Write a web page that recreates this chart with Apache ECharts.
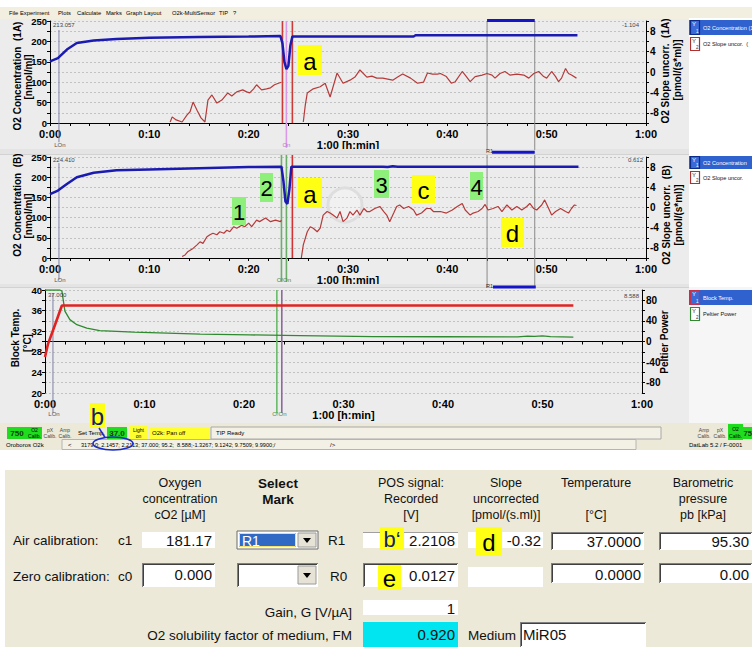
<!DOCTYPE html>
<html>
<head>
<meta charset="utf-8">
<title>DatLab – O2 calibration</title>
<script src="https://cdn.jsdelivr.net/npm/echarts@6/dist/echarts.min.js"></script>
<style>
html,body{margin:0;padding:0;background:#ffffff;}
#chart{width:752px;height:647px;}
</style>
</head>
<body>
<div id="chart"></div>
<script>
// ---------------- recorded traces (time axis in minutes) ----------------
const timeLabels = ['0:00', '0:10', '0:20', '0:30', '0:40', '0:50', '1:00'];

// Chamber A – O2 concentration [nmol/ml]
const concA = [[0,151],[0.8,159],[1.7,180],[2.7,196],[4.4,202],[6.7,206],[10,209],[15,211],[20,212],
  [23.2,213],[23.4,195],[23.6,150],[23.8,132],[24.0,140],[24.2,190],[24.4,212],[30,212],[36.6,212],
  [36.8,215],[53.1,215]];

// Chamber A – O2 slope uncorrected [pmol/(s*ml)]; null marks the gap while the chamber is opened
const slopeA = [[12.1,-9.8],[12.3,-8.8],[12.7,-9.4],[13.3,-9.8],[13.8,-8.4],[14.1,-7.8],[14.4,-5.9],
  [14.8,-7.5],[15.2,-9.0],[15.6,-9.8],[15.9,-5.5],[16.3,-4.5],[16.8,-6.1],[17.3,-5.5],[17.9,-4.1],
  [18.3,-4.7],[18.8,-3.9],[19.4,-3.5],[19.8,-3.9],[20.1,-4.1],[20.5,-3.3],[20.8,-2.5],[21.3,-3.5],
  [21.8,-3.3],[22.2,-3.1],[22.6,-2.5],[23.0,-2.2],[23.3,-2.0],[24.4,null],
  [25.5,-9.8],[25.7,-6.5],[25.9,-4.1],[26.5,-3.3],[27.2,-2.9],[27.7,-2.2],[28.2,-4.9],[28.9,-0.2],
  [29.5,-2.2],[30.2,-1.6],[30.7,-1.0],[31.2,0.4],[31.9,-1.0],[32.4,-0.8],[32.9,-1.2],[33.5,-1.2],
  [34.0,-1.4],[34.5,-1.6],[35.0,-1.0],[35.5,-0.4],[36.3,-1.2],[37.0,-2.2],[37.6,-2.0],[38.0,-0.2],
  [38.5,-0.4],[39.0,-0.4],[39.3,-0.3],[39.9,-0.9],[40.4,-2.2],[40.8,-1.9],[41.5,0.1],[41.8,-0.6],
  [42.3,-1.9],[42.8,-0.9],[43.5,-0.6],[44.0,-0.3],[44.5,-0.6],[44.8,-1.2],[45.3,-0.3],[45.8,0.1],
  [46.3,-0.6],[47.0,-0.4],[47.7,-0.6],[48.2,-1.2],[48.7,-0.3],[49.2,0.1],[49.7,-0.9],[50.0,-1.2],
  [50.5,0.1],[50.9,-0.9],[51.2,-1.9],[51.5,-1.2],[51.9,0.7],[52.2,-0.3],[52.5,-0.6],[53.0,-1.2]];

// Chamber B – O2 concentration [nmol/ml]
const concB = [[0,158],[0.8,167],[1.7,183],[2.7,200],[4.4,211],[6.7,217],[10,219],[15,222],[20,225],
  [23.3,226],[23.5,190],[23.7,140],[23.9,134],[24.1,170],[24.3,226],[30,226],[33.5,226],[34,225],
  [34.5,227],[35,226],[53.2,226]];

// Chamber B – O2 slope uncorrected [pmol/(s*ml)]
const slopeB = [[13.3,-9.7],[13.6,-9.4],[13.9,-8.7],[14.4,-8.1],[14.8,-7.4],[15.1,-6.8],[15.4,-7.1],
  [15.8,-5.8],[16.1,-5.4],[16.4,-5.1],[16.8,-5.4],[17.1,-4.8],[17.5,-5.1],[17.8,-4.5],[18.1,-4.8],
  [18.5,-3.8],[18.8,-4.1],[19.3,-3.5],[19.6,-3.8],[20.0,-3.1],[20.3,-3.8],[20.8,-2.5],[21.1,-2.8],
  [21.7,-2.1],[22.2,-2.8],[22.7,-2.5],[23.2,-2.8],[23.3,-2.5],[24.5,null],
  [25.3,-10],[25.5,-7.4],[25.9,-4.8],[26.2,-3.8],[26.5,-4.1],[26.9,-4.8],[27.2,-4.1],[27.5,-1.5],
  [27.9,-0.8],[28.2,-1.1],[28.5,-1.5],[28.9,-2.1],[29.2,-0.8],[29.5,-2.8],[29.9,-2.1],[30.2,-0.8],
  [30.5,-1.5],[30.9,-0.5],[31.2,-1.5],[31.6,-0.2],[31.9,-0.8],[32.2,-0.8],[32.7,-0.2],[33.2,0.2],
  [33.6,-0.8],[33.9,-1.5],[34.2,-2.8],[34.6,-1.1],[34.9,0.2],[35.2,0.5],[35.6,-0.2],[36.1,0.2],
  [36.6,-0.5],[36.9,-1.5],[37.4,-1.1],[37.9,-0.2],[38.3,-0.2],[38.6,-0.8],[39.3,-0.8],[39.9,-1.1],
  [40.5,-0.5],[41.0,0.2],[41.5,0.8],[41.8,-0.5],[42.3,-1.5],[42.6,-1.1],[43.1,-0.8],[43.5,-0.2],
  [43.8,0.6],[44.1,-0.5],[44.6,-0.2],[45.1,0.2],[45.5,-0.8],[46.0,0.5],[46.5,-0.5],[47.0,0.2],
  [47.5,-0.5],[48.0,0.2],[48.3,0.8],[48.7,-0.2],[49.0,-0.5],[49.5,0.5],[49.8,1.5],[50.2,-0.2],
  [50.5,-1.5],[50.9,-0.8],[51.4,-0.2],[51.9,-0.8],[52.2,-1.1],[52.5,-0.2],[52.8,0.5],[53.0,0.4]];

// Block temperature [°C] and Peltier power
const blockTemp = [[0,27.0],[0.3,29.5],[1.0,33.2],[1.7,37.0],[53.1,37.0]];
const peltier = [[0,100],[1.5,100],[1.7,98],[2.0,59],[2.5,42.5],[3.2,32.6],[4.2,26],[5.5,21.3],
  [8.9,18.2],[12.3,16.2],[15.6,14.2],[20.6,12.8],[25.6,11.4],[33,9.5],[40,9.2],[47.5,9.0],
  [48.5,10.5],[49.2,9.8],[50,10.8],[50.8,9.5],[53.1,8.6]];

// events and marks (minutes)
const eventLOn = 0.9;
const eventsA = [23.4, 23.8, 24.4];       // chamber A: open, On, close
const eventsB = [23.3, 23.8, 24.4];       // chamber B: O, On, close
const eventsT = [23.3, 23.8];             // temperature plot
const markR1 = [44.0, 48.8];

// ---------------- layout ----------------
const FONT = "'Liberation Sans', Arial, Helvetica, sans-serif";
const chart = echarts.init(document.getElementById('chart'), null, {renderer: 'svg'});

const timeFmt = v => (Math.abs(v % 10) < 1e-6 ? timeLabels[Math.round(v / 10)] : '');
const axisTxt = {color: '#000', fontSize: 11, fontWeight: 'bold', fontFamily: FONT};

function xAx(g) {
  return {
    type: 'value', gridIndex: g, min: 0, max: 60, interval: 2,
    axisLine: {lineStyle: {color: '#000', width: 1}},
    axisTick: {length: 3, lineStyle: {color: '#000'}},
    axisLabel: Object.assign({formatter: timeFmt, margin: 5}, axisTxt),
    splitLine: {show: false},
    name: '1:00 [h:min]', nameLocation: 'middle', nameGap: 14,
    nameTextStyle: axisTxt
  };
}
function yLeft(g, min, max, step, every) {
  return {
    type: 'value', gridIndex: g, min, max, interval: step, position: 'left',
    axisLine: {show: true, lineStyle: {color: '#000'}},
    axisTick: {show: true, length: 3, lineStyle: {color: '#000'}},
    axisLabel: Object.assign({formatter: v => (v % every === 0 ? String(v) : ''), margin: 3}, axisTxt, {fontSize: 9.5}),
    splitLine: {show: true, lineStyle: {color: '#c2c2c2', type: [2, 2], width: 1}}
  };
}
function yRight(g, lim, step, every) {
  return {
    type: 'value', gridIndex: g, min: -lim, max: lim, interval: step, position: 'right',
    axisLine: {show: true, lineStyle: {color: '#000'}},
    axisTick: {show: true, length: 3, lineStyle: {color: '#000'}},
    axisLabel: Object.assign({formatter: v => (v % every === 0 && Math.abs(v) < lim ? String(v) : ''), margin: 4}, axisTxt, {fontSize: 10}),
    splitLine: {show: false}
  };
}

function trace(g, yi, data, color, width, z) {
  return {
    type: 'line', xAxisIndex: g, yAxisIndex: yi, data: data.map(p => [p[0], p[1] === null ? '-' : p[1]]),
    symbol: 'none', connectNulls: false, animation: false, silent: true, z,
    lineStyle: {color, width}
  };
}
function vLine(g, t, top, bottom, color, width) {
  return {
    type: 'line', xAxisIndex: g, yAxisIndex: g * 2, data: [[t, top], [t, bottom]],
    symbol: 'none', clip: false, animation: false, silent: true, z: 3,
    lineStyle: {color, width}
  };
}
function hBar(g, t0, t1, v) {
  return {
    type: 'line', xAxisIndex: g, yAxisIndex: g * 2, data: [[t0, v], [t1, v]],
    symbol: 'none', clip: false, animation: false, silent: true, z: 6,
    lineStyle: {color: '#1414c8', width: 3}
  };
}

const BLUE = '#1b1bb0', SLOPE = '#b53a3a';
const series = [
  // panel 1 – chamber A
  vLine(0, eventLOn, 228, -47, '#8080a8', 1),
  vLine(0, eventsA[0], 250, 0, '#cc3a3a', 1.6),
  vLine(0, eventsA[2], 250, 0, '#cc3a3a', 1.6),
  vLine(0, eventsA[1], 250, -61, '#d89ae6', 1.6),
  vLine(0, markR1[0], 250, -66, '#8a8a8a', 1),
  vLine(0, markR1[1], 250, -66, '#8a8a8a', 1),
  hBar(0, markR1[0], markR1[1], 251),
  trace(0, 1, slopeA, SLOPE, 1.2, 4),
  trace(0, 0, concA, BLUE, 2.5, 5),
  // panel 2 – chamber B
  vLine(1, eventLOn, 235, -54, '#8080a8', 1),
  vLine(1, eventsB[0], 255, -59, '#6aae6a', 1.6),
  vLine(1, eventsB[1], 255, -59, '#6aae6a', 1.6),
  vLine(1, eventsB[2], 255, 0, '#d23232', 1.6),
  vLine(1, markR1[0], 255, -74, '#8a8a8a', 1),
  vLine(1, markR1[1], 255, -74, '#8a8a8a', 1),
  hBar(1, markR1[0] + 0.5, markR1[1], 262),
  hBar(1, markR1[0] + 0.6, markR1[1] + 0.1, -72),
  trace(1, 3, slopeB, SLOPE, 1.2, 4),
  trace(1, 2, concB, BLUE, 2.5, 5),
  // panel 3 – temperature
  vLine(2, eventLOn - 0.1, 39.4, 16.1, '#8080a8', 1),
  vLine(2, eventsT[0], 40, 16.1, '#6aba6a', 1.6),
  vLine(2, eventsT[1], 40, 16.1, '#8a6a9a', 1.6),
  trace(2, 5, peltier, '#2f8a2f', 1.3, 4),
  trace(2, 4, blockTemp, '#e02222', 2.6, 5)
];

const option = {
  animation: false,
  backgroundColor: '#ffffff',
  grid: [
    {left: 50, right: 106, top: 21, height: 102},
    {left: 50, right: 106, top: 157, height: 101},
    {left: 45, right: 110, top: 290, height: 103}
  ],
  xAxis: [xAx(0), xAx(1), xAx(2)],
  yAxis: [
    yLeft(0, 0, 250, 25, 50), yRight(0, 10, 2, 4),
    yLeft(1, 0, 250, 25, 50), yRight(1, 10, 2, 4),
    yLeft(2, 20, 40, 2, 4), yRight(2, 100, 20, 40)
  ],
  series
};
chart.setOption(option);

// ---------------- window furniture, titles and the calibration form ----------------
const G = [];
function box(x, y, w, h, fill, stroke, z, lw) {
  G.push({type: 'rect', z: z === undefined ? 40 : z, silent: true, shape: {x, y, width: w, height: h},
    style: {fill: fill || 'none', stroke: stroke || 'none', lineWidth: lw || 1}});
}
function seg(x1, y1, x2, y2, color, w, z) {
  G.push({type: 'line', z: z === undefined ? 41 : z, silent: true, shape: {x1, y1, x2, y2},
    style: {stroke: color, lineWidth: w || 1}});
}
function txt(x, y, s, o) {
  o = o || {};
  G.push({type: 'text', x, y, rotation: o.rot || 0, z: o.z === undefined ? 60 : o.z, silent: true,
    style: {text: s, fill: o.color || '#000',
      font: (o.weight || 'normal') + ' ' + (o.size || 12) + 'px ' + FONT,
      textAlign: o.align || 'left', textVerticalAlign: 'middle', verticalAlign: 'middle'}});
}
function tag(x, y, w, h, s, bg, color, size) {
  box(x, y, w, h, bg, null, 70);
  txt(x + w / 2, y + h / 2 + 1, s, {align: 'center', size: size || 24, color: color || '#000', z: 71});
}
function sunken(x, y, w, h) {
  box(x, y, w, h, '#ffffff', null, 40);
  seg(x, y + 0.5, x + w, y + 0.5, '#808080', 1);
  seg(x + 0.5, y, x + 0.5, y + h, '#808080', 1);
  seg(x + 1, y + 1.5, x + w - 1, y + 1.5, '#404040', 1);
  seg(x + 1.5, y + 1, x + 1.5, y + h - 1, '#404040', 1);
}
const UP = Math.PI / 2;

// background of the plot window
box(0, 18, 689, 405, '#ececec', null, -10);
box(0, 149, 689, 6, '#e4e4e4', null, 1);
seg(0, 154.5, 689, 154.5, '#d2d2d2', 1, 1);
box(0, 284, 689, 4, '#e4e4e4', null, 1);
seg(0, 287.5, 689, 287.5, '#d2d2d2', 1, 1);

// menu bar
box(0, 7, 752, 12, '#f2efe1', null, 50);
[['File', 9], ['Experiment', 20], ['Plots', 58], ['Calculate', 77], ['Marks', 106], ['Graph', 126],
 ['Layout', 144], ['O2k-MultiSensor', 172], ['TIP', 219], ['?', 233]]
  .forEach(m => txt(m[1], 13, m[0], {size: 5.8, z: 51}));

// axis titles
const T = {rot: UP, align: 'center', size: 10, weight: 'bold'};
txt(17, 76, 'O2 Concentration  (1A)', T);
txt(28.5, 77, '[nmol/ml]', T);
txt(665, 71, 'O2 Slope uncorr.  (1A)', T);
txt(677, 70, '[pmol/(s*ml)]', T);
txt(17, 205, 'O2 Concentration  (B)', T);
txt(28.5, 216, '[nmol/ml]', T);
txt(666, 215, 'O2 Slope uncorr.  (B)', T);
txt(678, 215, '[pmol/(s*ml)]', T);
txt(15, 338, 'Block Temp.', T);
txt(27, 343, '[°C]', T);
txt(664, 342, 'Peltier Power', T);

// cursor read-outs
txt(53, 25, '213.057', {size: 6, color: '#444'});
txt(639, 25, '-1.104', {size: 6, color: '#444', align: 'right'});
txt(53, 160, '224.410', {size: 6, color: '#444'});
txt(643, 160, '0.612', {size: 6, color: '#444', align: 'right'});
txt(48, 295, '37.000', {size: 6, color: '#444'});
txt(639, 296, '8.588', {size: 6, color: '#444', align: 'right'});

// event / mark labels placed from the axis scales
function px(g, t, v) { return chart.convertToPixel({xAxisIndex: g, yAxisIndex: g * 2}, [t, v]); }
let p;
p = px(0, eventLOn, -47); txt(p[0] + 1, p[1] + 3, 'LOn', {size: 6, color: '#555', align: 'center'});
p = px(0, eventsA[1], -61); txt(p[0], p[1] - 3, 'On', {size: 6, color: '#c070d0', align: 'center', z: 62});
p = px(1, eventLOn, -54); txt(p[0] + 1, p[1], 'LOn', {size: 6, color: '#555', align: 'center'});
p = px(1, (eventsB[0] + eventsB[1]) / 2, -59); txt(p[0], p[1] - 2, 'O!On', {size: 6, color: '#4a8a4a', align: 'center'});
p = px(1, markR1[0], 262); txt(p[0] - 1, p[1] - 1, 'R1', {size: 5.5, color: '#333'});
p = px(1, markR1[0], -72); txt(p[0] - 1, p[1] - 1, 'R1', {size: 5.5, color: '#333'});
p = px(2, eventLOn - 0.1, 16.1); txt(p[0] + 1, p[1] + 1, 'LOn', {size: 6, color: '#555', align: 'center'});
p = px(2, (eventsT[0] + eventsT[1]) / 2, 16.1); txt(p[0], p[1] + 1, 'O!On', {size: 6, color: '#4a8a4a', align: 'center'});

// faint watermark in the middle plot
G.push({type: 'circle', z: 2, silent: true, shape: {cx: 345, cy: 205, r: 17},
  style: {fill: 'rgba(255,255,255,0.25)', stroke: '#dedede', lineWidth: 3}});

// annotation tags
tag(298, 45, 24, 30, 'a', '#ffff14');
tag(232, 197, 14, 28, '1', '#8ef07a', '#000', 22);
tag(260, 173, 13, 29, '2', '#8ef07a', '#000', 22);
tag(298, 178, 24, 30, 'a', '#ffff14');
tag(374, 170, 15, 28, '3', '#8ef07a', '#000', 22);
tag(412, 175, 23, 28, 'c', '#ffff14');
tag(470, 172, 13, 28, '4', '#8ef07a', '#000', 22);
tag(501, 218, 23, 29, 'd', '#ffff14');

// series legends on the right
function legendRow(y, h, label, iconStroke, iconFill, sub, selected) {
  if (selected) box(689, y, 63, h, '#2f62cf', null, 52);
  box(690.5, y + 0.5, 9, h - 1, iconFill, iconStroke, 53, 1.2);
  txt(692, y + 4, 'Y', {size: 6, color: selected ? '#fff' : '#333', z: 54});
  txt(696, y + h - 4, sub, {size: 4.5, color: selected ? '#fff' : '#333', z: 54});
  txt(703, y + h / 2, label, {size: 5.6, color: selected ? '#fff' : '#111', z: 54});
}
box(689, 18, 63, 129, '#ffffff', null, 51);
legendRow(20, 15, 'O2 Concentration (1', '#0c2a8a', '#3a6ad8', '1', true);
legendRow(37, 14, 'O2 Slope uncor.  (', '#b03030', '#ffffff', '2', false);
box(689, 149, 63, 134, '#ffffff', null, 51);
legendRow(156, 13, 'O2 Concentration', '#0c2a8a', '#3a6ad8', '1', true);
legendRow(171, 13, 'O2 Slope uncor.', '#b03030', '#ffffff', '2', false);
box(689, 287, 63, 136, '#f6f6f6', null, 51);
legendRow(290, 15, 'Block Temp.', '#c03050', '#3a6ad8', '1', true);
legendRow(307, 14, 'Peltier Power', '#2f8a2f', '#ffffff', '2', false);

// status bars
box(0, 423, 752, 27, '#ece9d8', null, 45);
box(7, 427, 20, 12, '#1fdc1f', null, 46);
txt(17, 433.5, '750', {size: 8, weight: 'bold', align: 'center', color: '#0a3a0a'});
box(27, 427, 15, 12, '#1fdc1f', null, 46);
txt(34.5, 430, 'O2', {size: 5, align: 'center'}); txt(34.5, 436, 'Calib.', {size: 5, align: 'center'});
txt(50, 430, 'pX', {size: 5, align: 'center', color: '#444'}); txt(50, 436, 'Calib.', {size: 5, align: 'center', color: '#444'});
txt(65, 430, 'Amp', {size: 5, align: 'center', color: '#444'}); txt(65, 436, 'Calib.', {size: 5, align: 'center', color: '#444'});
txt(78, 433, 'Set Temp.', {size: 6});
box(107, 427, 20, 12, '#1fdc1f', null, 46);
txt(117, 433.5, '37.0', {size: 8, weight: 'bold', align: 'center', color: '#0a3a0a'});
box(130, 426, 17, 14, '#ffff30', null, 46);
txt(138.5, 430, 'Light', {size: 5, align: 'center'}); txt(138.5, 436, 'on', {size: 5, align: 'center'});
box(149, 427, 61, 12, '#ffff30', null, 46);
txt(152, 433, 'O2k: Pan off', {size: 6});
box(211, 427, 450, 12, '#f3f1e6', '#a8a8a8', 46);
txt(216, 433, 'TIP Ready', {size: 6});
txt(704, 430, 'Amp', {size: 5, align: 'center', color: '#444'}); txt(704, 436, 'Calib.', {size: 5, align: 'center', color: '#444'});
txt(720, 430, 'pX', {size: 5, align: 'center', color: '#444'}); txt(720, 436, 'Calib.', {size: 5, align: 'center', color: '#444'});
box(728, 424, 15, 16, '#1fdc1f', null, 46);
txt(735.5, 429, 'O2', {size: 5, align: 'center'}); txt(735.5, 436, 'Calib.', {size: 5, align: 'center'});
box(743, 427, 9, 12, '#1fdc1f', null, 46);
txt(743.5, 433.5, '75', {size: 7.5, weight: 'bold', color: '#0a3a0a'});
box(62, 439.5, 574, 10, '#f3f1e6', '#b4b4b4', 46);
txt(6, 445, 'Oroboros O2k', {size: 6});
txt(68, 445, '<', {size: 6});
txt(81, 445, '3179.0; 2.1457; 2.2113; 37.000; 95.2;  8.588;-1.3267; 9.1242; 9.7509; 9.9900;/', {size: 5.6});
txt(330, 445, '/>', {size: 6});
txt(689, 445, 'DatLab 5.2 / F-0001', {size: 6});

// highlight of the recorded signal in the status line
tag(90, 403, 15, 25, 'b', '#ffff14', '#13206e', 24);
seg(99, 428, 105, 437.5, '#1a2cc8', 1.5, 72);
G.push({type: 'ellipse', z: 72, silent: true, shape: {cx: 113, cy: 443.5, rx: 20, ry: 6.5},
  style: {fill: 'none', stroke: '#1a2cc8', lineWidth: 1.6}});

// ---------------- calibration form ----------------
box(5, 470, 747, 177, '#ece9d8', null, 30);
const head = (x, lines, bold) => lines.forEach((s, i) => txt(x, 483 + i * 16, s,
  {size: bold ? 13.5 : 12.5, weight: bold ? 'bold' : 'normal', align: 'center', color: '#111'}));
head(180, ['Oxygen', 'concentration', 'cO2 [µM]']);
head(278, ['Select', 'Mark'], true);
head(411, ['POS signal:', 'Recorded', '[V]']);
head(506, ['Slope', 'uncorrected', '[pmol/(s.ml)]']);
head(596, ['Temperature', '', '[°C]']);
head(703, ['Barometric', 'pressure', 'pb [kPa]']);

const L = {size: 13.5, color: '#111'};
const V = {size: 15, color: '#111', align: 'right'};
// row: air calibration
txt(13, 540, 'Air calibration:', L);
txt(118, 540, 'c1', L);
box(142, 532, 73, 16, '#ffffff', null, 40);
txt(212, 540, '181.17', V);
box(237, 531, 81, 18, '#ffffff', '#6a6a6a', 40);
box(239, 533, 57, 14, '#316ac5', null, 41);
box(239.5, 533.5, 56, 13, null, '#ffe066', 42);
txt(242, 540.5, 'R1', {size: 14, color: '#fff', z: 61});
box(298, 533, 18, 14, '#e6e3d6', '#9a9a9a', 41);
G.push({type: 'polygon', z: 43, silent: true, shape: {points: [[303, 538], [311, 538], [307, 543]]}, style: {fill: '#000'}});
txt(328, 540, 'R1', L);
box(363, 532, 95, 16, '#ffffff', null, 40);
seg(363, 532.5, 458, 532.5, '#a0a0a0', 1);
txt(455, 540, '2.2108', V);
tag(380, 527, 24, 23, 'b‘', '#ffff14', '#13206e', 22);
box(468, 532, 75, 16, '#ffffff', null, 40);
txt(541, 540, '-0.32', V);
tag(476, 527, 26, 29, 'd', '#ffff14', '#000', 24);
sunken(551, 532, 93, 18);
txt(641, 541, '37.0000', V);
sunken(659, 532, 93, 18);
txt(749, 541, '95.30', V);

// row: zero calibration
txt(13, 576, 'Zero calibration:', L);
txt(118, 576, 'c0', L);
sunken(142, 563, 73, 24);
txt(212, 574, '0.000', V);
sunken(237, 563, 81, 24);
box(298, 566, 18, 18, '#e6e3d6', '#9a9a9a', 42);
G.push({type: 'polygon', z: 43, silent: true, shape: {points: [[303, 573], [311, 573], [307, 578]]}, style: {fill: '#000'}});
txt(330, 576, 'R0', L);
sunken(363, 563, 95, 24);
txt(455, 575, '0.0127', V);
tag(378, 565, 23, 25, 'e', '#ffff14', '#000', 24);
box(468, 567, 75, 20, '#ffffff', null, 40);
sunken(551, 563, 93, 20);
txt(641, 574, '0.0000', V);
sunken(659, 563, 93, 20);
txt(749, 574, '0.00', V);

// row: gain and solubility
txt(352, 612, 'Gain, G [V/µA]', Object.assign({}, L, {align: 'right'}));
box(363, 600, 95, 15, '#ffffff', null, 40);
txt(455, 608, '1', V);
txt(352, 635, 'O2 solubility factor of medium, FM', Object.assign({}, L, {align: 'right'}));
box(363, 622, 95, 25, '#00e5ef', null, 40);
txt(455, 634, '0.920', V);
txt(468, 635, 'Medium', L);
sunken(520, 622, 126, 25);
txt(523, 634, 'MiR05', Object.assign({}, V, {align: 'left'}));

chart.setOption({graphic: {elements: G}});
</script>
</body>
</html>
